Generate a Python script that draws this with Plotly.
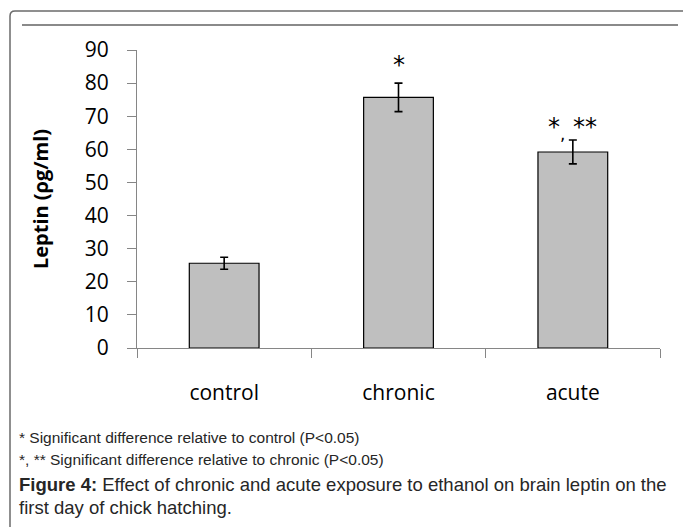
import plotly.graph_objects as go

categories = ["control", "chronic", "acute"]
leptin = [25.6, 75.7, 59.2]
sem = [1.8, 4.3, 3.6]
sig_labels = ["", "*", "*<sub>,</sub> **"]
sig_shift = [0, 2, -6]
y_ticks = [0, 10, 20, 30, 40, 50, 60, 70, 80, 90]

W, H = 683, 527
L, R, T, B = 137, 23, 50, 179
PW, PH = W - L - R, H - T - B

def px(x):
    return (x - L) / PW

def py(y):
    return 1 - (y - T) / PH

fig = go.Figure()
fig.add_trace(go.Bar(
    x=categories, y=leptin,
    marker=dict(color="#BFBFBF", line=dict(color="#000000", width=1.2)),
    error_y=dict(type="data", array=sem, visible=True, color="#000000",
                 thickness=1.6, width=4),
    width=0.4, showlegend=False,
))

annotations = []
for c, v, e, s, sh in zip(categories, leptin, sem, sig_labels, sig_shift):
    if s:
        annotations.append(dict(x=c, y=v + e, xref="x", yref="y", text=s,
                                showarrow=False, yanchor="bottom", yshift=sh,
                                font=dict(family="DejaVu Sans", size=24, color="#000")))

small_font = dict(family="Liberation Sans", size=15.5, color="#262626")
big_font = dict(family="Liberation Sans", size=18.5, color="#262626")
captions = [
    "* Significant difference relative to control (P&lt;0.05)",
    "*, ** Significant difference relative to chronic (P&lt;0.05)",
    "<b>Figure 4:</b> Effect of chronic and acute exposure to ethanol on brain leptin on the",
    "first day of chick hatching.",
]
cap_y = [437, 460, 484, 508]
cap_fonts = [small_font, small_font, big_font, big_font]
for t, yy, f in zip(captions, cap_y, cap_fonts):
    annotations.append(dict(x=px(17), y=py(yy), xref="paper", yref="paper", text=t,
                            showarrow=False, xanchor="left", yanchor="middle", font=f))

shapes = [
    dict(type="path", xref="paper", yref="paper",
         path=f"M {px(10)},{py(527)} L {px(10)},{py(16)} Q {px(10)},{py(11)} {px(15)},{py(11)} L {px(683)},{py(11)}",
         line=dict(color="#6b6b6b", width=1.5)),
    dict(type="line", xref="paper", yref="paper", x0=px(22), x1=px(678), y0=py(25), y1=py(25),
         line=dict(color="#8a8a8a", width=2)),
]

fig.update_layout(
    width=W, height=H,
    margin=dict(l=L, r=R, t=T, b=B, pad=0),
    paper_bgcolor="white", plot_bgcolor="white",
    annotations=annotations, shapes=shapes,
    xaxis=dict(showline=True, linecolor="#868686", linewidth=1.2,
               ticks="outside", tickson="boundaries", ticklen=9, tickcolor="#868686",
               tickfont=dict(family="Open Sans", size=21, color="#000"),
               ticklabelstandoff=26, showgrid=False, zeroline=False),
    yaxis=dict(range=[0, 90], tickvals=y_ticks, showline=True, linecolor="#868686", linewidth=1.2,
               ticks="outside", ticklen=9, tickcolor="#868686",
               tickfont=dict(family="Open Sans", size=21, color="#000"),
               ticklabelstandoff=14, showgrid=False, zeroline=False,
               title=dict(text="<b>Leptin (ρg/ml)</b>", standoff=30,
                          font=dict(family="Open Sans", size=20, color="#000"))),
)

fig.write_html("out.html")
